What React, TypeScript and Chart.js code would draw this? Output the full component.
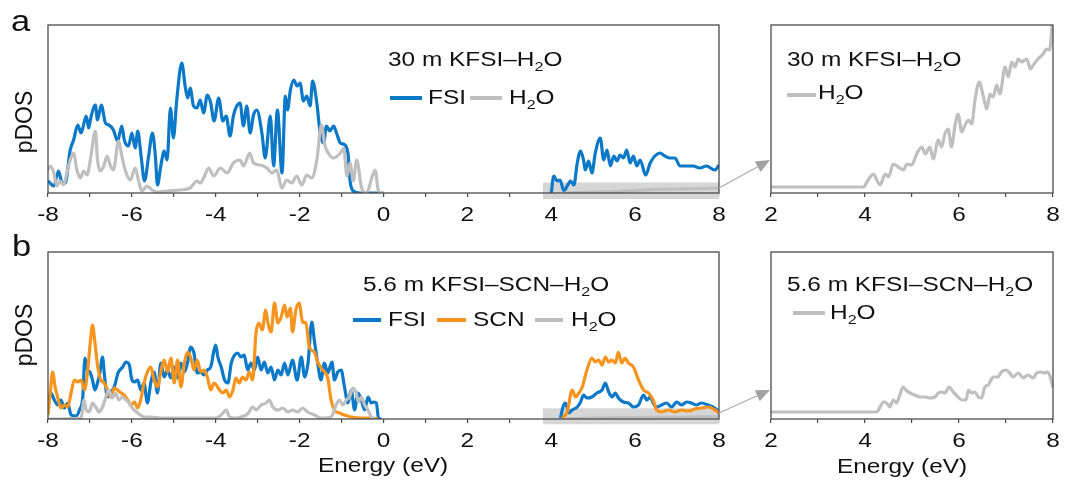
import React, { useEffect, useRef } from 'react';
import { Chart, registerables } from 'chart.js';
Chart.register(...registerables);

type Pt = [number, number | null];

const FONT = '"Liberation Sans", Arial, Helvetica, sans-serif';
const STRETCH = 1.19;
const BLUE = '#0b78c8';
const ORANGE = '#f7941d';
const GRAY = '#bfbfbf';
const FRAME = '#4a4a4a';

const mainTickLabels = ['-8', '-6', '-4', '-2', '0', '2', '4', '6', '8'];
const zoomTickLabels = ['2', '4', '6', '8'];

// ---- panel a : 30 m KFSI–H2O ----
const fsiA: Pt[] = [
  [-8, 12], [-7.86, 7], [-7.75, 22], [-7.67, 11], [-7.59, 10], [-7.47, 43], [-7.39, 53], [-7.29, 68], [-7.21, 60],
  [-7.09, 77], [-7.03, 65], [-6.98, 75], [-6.87, 88], [-6.82, 73], [-6.73, 88], [-6.63, 70], [-6.55, 68], [-6.44, 63],
  [-6.34, 52], [-6.24, 67], [-6.18, 53], [-6.08, 47], [-6.0, 60], [-5.92, 45], [-5.86, 62], [-5.78, 37], [-5.7, 12],
  [-5.6, 37], [-5.51, 60], [-5.44, 37], [-5.39, 8], [-5.31, 27], [-5.23, 42], [-5.16, 33], [-5.08, 85], [-5.01, 55],
  [-4.93, 93], [-4.81, 130], [-4.73, 107], [-4.67, 95], [-4.61, 105], [-4.53, 87], [-4.45, 85], [-4.37, 93], [-4.29, 80],
  [-4.2, 98], [-4.12, 90], [-4.04, 72], [-3.93, 95], [-3.83, 72], [-3.75, 77], [-3.66, 57], [-3.58, 77], [-3.5, 87],
  [-3.42, 90], [-3.34, 67], [-3.26, 87], [-3.18, 60], [-3.1, 78], [-3.02, 83], [-2.9, 60], [-2.82, 35], [-2.7, 77],
  [-2.62, 27], [-2.53, 83], [-2.42, 20], [-2.34, 97], [-2.29, 83], [-2.22, 103], [-2.14, 113], [-2.06, 107], [-1.99, 110],
  [-1.91, 92], [-1.83, 97], [-1.75, 87], [-1.69, 112], [-1.59, 90], [-1.51, 60], [-1.43, 50], [-1.36, 67], [-1.28, 62],
  [-1.19, 67], [-1.12, 60], [-1.03, 50], [-0.92, 48], [-0.84, 37], [-0.8, 13], [-0.72, 2], [-0.56, 0], [0, 0],
  [2, null],
  [4, 0], [4.06, 17], [4.14, 12], [4.21, 13], [4.3, 2], [4.38, 7], [4.46, 12], [4.54, 8], [4.62, 30], [4.7, 42],
  [4.77, 33], [4.81, 23], [4.89, 32], [4.97, 20], [5.05, 40], [5.17, 55], [5.25, 33], [5.33, 43], [5.41, 27], [5.49, 37],
  [5.57, 32], [5.64, 38], [5.72, 35], [5.8, 43], [5.88, 30], [5.96, 37], [6.04, 27], [6.12, 33], [6.25, 18], [6.36, 30],
  [6.47, 37], [6.59, 40], [6.71, 37], [6.83, 35], [6.95, 35], [7.07, 27], [7.23, 27], [7.38, 27], [7.54, 25], [7.7, 27],
  [7.9, 23], [8, 28],
];

const h2oA: Pt[] = [
  [-8, 23], [-7.94, 27], [-7.86, 20], [-7.79, 7], [-7.71, 12], [-7.63, 8], [-7.55, 20], [-7.47, 33], [-7.39, 40],
  [-7.31, 23], [-7.23, 15], [-7.15, 22], [-7.07, 18], [-6.99, 33], [-6.87, 62], [-6.82, 33], [-6.75, 22], [-6.67, 27],
  [-6.59, 37], [-6.51, 27], [-6.44, 23], [-6.32, 52], [-6.24, 37], [-6.16, 23], [-6.04, 13], [-5.92, 25], [-5.84, 12],
  [-5.76, 2], [-5.64, 7], [-5.52, 3], [-5.4, 1], [-5.16, 2], [-4.85, 3], [-4.61, 5], [-4.45, 12], [-4.37, 10],
  [-4.29, 15], [-4.17, 25], [-4.05, 17], [-3.89, 25], [-3.73, 20], [-3.58, 30], [-3.42, 33], [-3.34, 27], [-3.19, 40],
  [-3.1, 30], [-2.94, 28], [-2.78, 25], [-2.66, 20], [-2.55, 23], [-2.42, 5], [-2.31, 13], [-2.19, 10], [-2.07, 17],
  [-1.95, 8], [-1.83, 18], [-1.71, 15], [-1.59, 33], [-1.48, 68], [-1.4, 48], [-1.32, 40], [-1.19, 35], [-1.03, 40],
  [-0.95, 45], [-0.87, 17], [-0.8, 30], [-0.72, 12], [-0.64, 33], [-0.52, 5], [-0.4, 0], [-0.28, 15], [-0.2, 23],
  [-0.12, 2], [0, 0],
  [2, null],
  [4.3, 0], [5, 1], [5.5, 1.5], [6, 2.5], [6.5, 3.5], [7, 4], [7.5, 4.5], [8, 5],
];

const h2oAZoom: Pt[] = [
  [2, 6], [3.97, 6], [4.04, 11], [4.11, 16], [4.18, 19], [4.25, 13], [4.32, 8], [4.43, 19], [4.5, 16], [4.6, 29],
  [4.71, 26], [4.82, 23], [4.89, 29], [4.99, 28], [5.1, 39], [5.21, 46], [5.28, 39], [5.38, 46], [5.45, 34], [5.56, 53],
  [5.63, 46], [5.7, 59], [5.77, 64], [5.84, 46], [5.91, 66], [5.98, 79], [6.06, 61], [6.13, 68], [6.2, 73], [6.27, 69],
  [6.34, 93], [6.43, 111], [6.52, 96], [6.59, 84], [6.66, 99], [6.73, 96], [6.8, 108], [6.87, 99], [6.98, 126],
  [7.05, 116], [7.12, 131], [7.19, 126], [7.26, 134], [7.33, 131], [7.44, 134], [7.52, 124], [7.58, 128], [7.68, 134],
  [7.79, 139], [7.86, 144], [7.93, 143], [7.98, 166], [8, 168],
];

// ---- panel b : 5.6 m KFSI–SCN–H2O ----
const fsiB: Pt[] = [
  [-8, 16], [-7.93, 26], [-7.85, 19], [-7.77, 14], [-7.69, 19], [-7.61, 11], [-7.53, 16], [-7.45, 4], [-7.33, 3],
  [-7.25, 9], [-7.17, 22], [-7.12, 61], [-7.06, 49], [-7.0, 47], [-6.94, 39], [-6.88, 29], [-6.82, 36], [-6.76, 47],
  [-6.7, 62], [-6.65, 42], [-6.58, 22], [-6.5, 27], [-6.42, 32], [-6.33, 46], [-6.22, 52], [-6.14, 57], [-6.06, 54],
  [-6.01, 41], [-5.94, 37], [-5.86, 39], [-5.79, 29], [-5.71, 36], [-5.63, 16], [-5.55, 36], [-5.47, 47], [-5.39, 26],
  [-5.31, 56], [-5.23, 42], [-5.15, 49], [-5.07, 41], [-4.99, 52], [-4.91, 41], [-4.83, 56], [-4.75, 47], [-4.67, 57],
  [-4.6, 72], [-4.52, 66], [-4.44, 46], [-4.36, 47], [-4.28, 44], [-4.2, 49], [-4.12, 52], [-4.04, 69], [-4.0, 74],
  [-3.95, 62], [-3.87, 52], [-3.79, 39], [-3.71, 36], [-3.63, 56], [-3.55, 64], [-3.48, 66], [-3.4, 62], [-3.32, 64],
  [-3.24, 49], [-3.16, 56], [-3.08, 49], [-3.0, 62], [-2.92, 49], [-2.84, 57], [-2.76, 46], [-2.68, 52], [-2.6, 39],
  [-2.52, 49], [-2.44, 44], [-2.36, 56], [-2.28, 44], [-2.17, 59], [-2.06, 39], [-1.96, 62], [-1.88, 42], [-1.8, 56],
  [-1.71, 97], [-1.65, 79], [-1.57, 56], [-1.49, 39], [-1.41, 56], [-1.33, 46], [-1.23, 57], [-1.17, 39], [-1.09, 47],
  [-1.01, 49], [-0.93, 32], [-0.85, 16], [-0.77, 29], [-0.69, 9], [-0.61, 26], [-0.53, 19], [-0.45, 9], [-0.37, 22],
  [-0.29, 16], [-0.23, 17], [-0.17, 16], [-0.12, 1], [-0.05, 0],
  [2, null],
  [4.22, 1], [4.28, 12], [4.34, 16], [4.42, 6], [4.5, 9], [4.62, 12], [4.7, 17], [4.77, 24], [4.85, 21], [4.97, 22],
  [5.09, 26], [5.21, 29], [5.29, 36], [5.37, 27], [5.45, 22], [5.53, 26], [5.6, 21], [5.72, 17], [5.84, 16], [5.96, 12],
  [6.08, 14], [6.2, 24], [6.28, 19], [6.36, 22], [6.43, 16], [6.51, 12], [6.63, 14], [6.75, 16], [6.87, 12], [6.99, 17],
  [7.11, 14], [7.23, 17], [7.34, 16], [7.46, 14], [7.58, 16], [7.74, 14], [7.9, 11], [8, 7],
];

const scnB: Pt[] = [
  [-8, 4], [-7.94, 29], [-7.89, 47], [-7.83, 32], [-7.77, 22], [-7.69, 11], [-7.61, 14], [-7.53, 12], [-7.45, 26],
  [-7.37, 39], [-7.29, 37], [-7.21, 39], [-7.13, 29], [-7.06, 46], [-6.99, 77], [-6.94, 94], [-6.88, 76], [-6.82, 54],
  [-6.74, 39], [-6.66, 36], [-6.58, 29], [-6.5, 22], [-6.42, 31], [-6.34, 29], [-6.26, 26], [-6.18, 24], [-6.1, 19],
  [-6.02, 14], [-5.94, 17], [-5.86, 11], [-5.79, 19], [-5.71, 36], [-5.63, 47], [-5.55, 52], [-5.47, 39], [-5.39, 32],
  [-5.31, 47], [-5.23, 59], [-5.15, 47], [-5.07, 61], [-4.99, 36], [-4.91, 59], [-4.83, 32], [-4.75, 56], [-4.67, 67],
  [-4.6, 62], [-4.52, 49], [-4.44, 59], [-4.36, 47], [-4.28, 49], [-4.2, 42], [-4.12, 29], [-4.04, 36], [-3.91, 29],
  [-3.83, 26], [-3.75, 29], [-3.67, 22], [-3.59, 29], [-3.52, 41], [-3.44, 36], [-3.36, 42], [-3.28, 39], [-3.2, 47],
  [-3.12, 39], [-3.04, 86], [-2.97, 96], [-2.89, 89], [-2.81, 109], [-2.76, 97], [-2.68, 87], [-2.6, 116], [-2.52, 96],
  [-2.44, 102], [-2.36, 114], [-2.3, 102], [-2.22, 111], [-2.17, 87], [-2.09, 109], [-2.01, 116], [-1.93, 97],
  [-1.85, 96], [-1.77, 72], [-1.65, 67], [-1.57, 57], [-1.45, 49], [-1.33, 41], [-1.25, 19], [-1.17, 9], [-1.05, 6],
  [-0.93, 4], [-0.77, 2], [-0.53, 1], [-0.29, 1], [-0.13, 0],
  [2, null],
  [4.26, 1], [4.38, 7], [4.5, 29], [4.58, 22], [4.66, 26], [4.74, 32], [4.85, 49], [4.97, 61], [5.05, 57], [5.13, 59],
  [5.21, 54], [5.29, 62], [5.37, 57], [5.45, 59], [5.53, 56], [5.6, 67], [5.68, 56], [5.76, 61], [5.84, 56], [5.96, 52],
  [6.08, 39], [6.2, 29], [6.32, 26], [6.43, 19], [6.51, 9], [6.63, 7], [6.79, 9], [6.95, 7], [7.11, 9], [7.26, 8],
  [7.42, 10], [7.58, 11], [7.74, 12], [7.9, 9], [8, 6],
];

const h2oB: Pt[] = [
  [-8, 0], [-7.21, 1], [-7.14, 19], [-7.09, 9], [-7.02, 7], [-6.94, 16], [-6.86, 12], [-6.78, 7], [-6.7, 12],
  [-6.62, 22], [-6.55, 29], [-6.47, 21], [-6.39, 26], [-6.31, 19], [-6.23, 22], [-6.14, 19], [-6.06, 16], [-5.99, 11],
  [-5.86, 6], [-5.71, 2], [-5.55, 2], [-5.31, 1], [-4.5, 1], [-4.0, 1], [-3.87, 4], [-3.75, 9], [-3.67, 2], [-3.55, 1],
  [-3.4, 2], [-3.24, 5], [-3.12, 12], [-3.04, 9], [-2.92, 14], [-2.8, 16], [-2.72, 19], [-2.64, 12], [-2.52, 9],
  [-2.4, 11], [-2.28, 7], [-2.17, 9], [-2.05, 7], [-1.93, 11], [-1.81, 7], [-1.65, 4], [-1.49, 1], [-1.25, 2],
  [-1.13, 14], [-1.05, 19], [-0.97, 14], [-0.89, 19], [-0.81, 22], [-0.73, 31], [-0.65, 26], [-0.6, 17], [-0.53, 22],
  [-0.45, 14], [-0.37, 9], [-0.29, 2], [-0.21, 0],
  [2, null],
  [4.3, 0], [5, 1], [6, 1.5], [7, 2], [8, 2.5],
];

const h2oBZoom: Pt[] = [
  [2, 7], [4.25, 7], [4.32, 12], [4.39, 17], [4.46, 16], [4.53, 12], [4.6, 19], [4.67, 16], [4.74, 24], [4.81, 32],
  [4.87, 29], [4.96, 26], [5.06, 24], [5.17, 22], [5.28, 22], [5.38, 21], [5.49, 22], [5.56, 26], [5.63, 27], [5.7, 26],
  [5.79, 32], [5.88, 27], [5.98, 22], [6.06, 19], [6.15, 19], [6.2, 29], [6.27, 26], [6.34, 27], [6.41, 22], [6.48, 21],
  [6.55, 32], [6.62, 34], [6.73, 42], [6.83, 42], [6.9, 47], [7.0, 49], [7.08, 46], [7.15, 42], [7.26, 46], [7.37, 41],
  [7.47, 44], [7.58, 41], [7.65, 46], [7.75, 47], [7.82, 46], [7.89, 47], [7.96, 39], [8, 31],
];

const toXY = (pts: Pt[]) => pts.map(([x, y]) => ({ x, y }));

const framePlugin = {
  id: 'frameTicks',
  afterDraw(chart: any, _args: any, opts: any) {
    const { ctx, chartArea: a } = chart;
    const xs = chart.scales.x;
    ctx.save();
    ctx.strokeStyle = FRAME;
    ctx.lineWidth = 1.3;
    ctx.strokeRect(a.left, a.top, a.right - a.left, a.bottom - a.top);
    ctx.fillStyle = '#111';
    ctx.font = `20.5px ${FONT}`;
    ctx.textAlign = 'center';
    ctx.textBaseline = 'alphabetic';
    const labels: string[] = (opts && opts.labels) || [];
    xs.ticks.forEach((t: any) => {
      const lab = String(t.value);
      if (!labels.includes(lab)) return;
      const px = xs.getPixelForValue(t.value);
      ctx.save();
      ctx.translate(px, a.bottom + 27.5);
      ctx.scale(STRETCH, 1);
      ctx.fillText(lab, 0, 0);
      ctx.restore();
    });
    ctx.restore();
  },
};

const zoomPlugin = {
  id: 'zoomBox',
  beforeDatasetsDraw(chart: any, _args: any, o: any) {
    if (!o || o.from == null) return;
    const { ctx, chartArea: a } = chart;
    const xs = chart.scales.x;
    const x0 = xs.getPixelForValue(o.from);
    const x1 = xs.getPixelForValue(o.to);
    ctx.save();
    ctx.fillStyle = '#d6d6d6';
    ctx.fillRect(x0, a.bottom - o.up, x1 - x0, o.up + o.down);
    ctx.restore();
  },
  afterDraw(chart: any, _args: any, o: any) {
    if (!o || o.from == null) return;
    const { ctx, chartArea: a } = chart;
    const sx = a.right;
    const sy = a.bottom - o.startUp;
    const tx = a.right + o.dx;
    const ty = a.bottom - o.rise;
    const ang = Math.atan2(ty - sy, tx - sx);
    const hl = 14;
    const hw = 6;
    const bx = tx - hl * Math.cos(ang);
    const by = ty - hl * Math.sin(ang);
    ctx.save();
    ctx.strokeStyle = '#aaaaaa';
    ctx.lineWidth = 1.2;
    ctx.beginPath();
    ctx.moveTo(sx, sy);
    ctx.lineTo(bx, by);
    ctx.stroke();
    ctx.fillStyle = '#a2a2a2';
    ctx.beginPath();
    ctx.moveTo(tx, ty);
    ctx.lineTo(bx - hw * Math.sin(ang), by + hw * Math.cos(ang));
    ctx.lineTo(bx + hw * Math.sin(ang), by - hw * Math.cos(ang));
    ctx.closePath();
    ctx.fill();
    ctx.restore();
  },
};

interface Series { pts: Pt[]; color: string }
interface Spec {
  left: number; top: number; w: number; h: number;
  padL: number; padR: number; padT: number; xh: number;
  xmin: number; xmax: number; ymax: number;
  labels: string[]; series: Series[];
  zoom?: any;
}

function Plot({ spec }: { spec: Spec }) {
  const ref = useRef<HTMLCanvasElement>(null);
  useEffect(() => {
    const chart = new Chart(ref.current as HTMLCanvasElement, {
      type: 'line',
      data: {
        datasets: spec.series.map((s) => ({
          data: toXY(s.pts) as any,
          borderColor: s.color,
          backgroundColor: s.color,
          borderWidth: 3.2,
          pointRadius: 0,
          cubicInterpolationMode: 'monotone',
          spanGaps: false,
          fill: false,
        })),
      },
      options: {
        responsive: false,
        animation: false,
        events: [],
        layout: { padding: { left: spec.padL, right: spec.padR, top: spec.padT, bottom: 0 } },
        plugins: {
          legend: { display: false },
          tooltip: { enabled: false },
          frameTicks: { labels: spec.labels },
          zoomBox: spec.zoom || {},
        } as any,
        scales: {
          x: {
            type: 'linear',
            min: spec.xmin,
            max: spec.xmax,
            ticks: { stepSize: 1, display: false, autoSkip: false },
            grid: { drawOnChartArea: false, drawTicks: true, tickLength: 4, color: FRAME, lineWidth: 1.2 },
            border: { display: false },
            afterFit: (s: any) => { s.height = spec.xh; },
          },
          y: { display: false, min: 0, max: spec.ymax },
        },
      },
      plugins: spec.zoom ? [framePlugin, zoomPlugin] : [framePlugin],
    } as any);
    return () => chart.destroy();
  }, []);
  return (
    <canvas
      ref={ref}
      width={spec.w}
      height={spec.h}
      style={{ position: 'absolute', left: spec.left, top: spec.top, width: spec.w, height: spec.h }}
    />
  );
}

const Txt = ({ x, base, size = 20.5, stretch = STRETCH, children }: any) => (
  <div
    style={{
      position: 'absolute', left: x, top: base - size * 0.8465, fontFamily: FONT, fontSize: size,
      lineHeight: `${size}px`, whiteSpace: 'nowrap', transform: `scaleX(${stretch})`, transformOrigin: '0 0', color: '#111',
    }}
  >
    {children}
  </div>
);

const Sub = ({ children }: any) => (
  <span style={{ fontSize: 13.5, verticalAlign: -5, lineHeight: 0 }}>{children}</span>
);
const H2O = () => (<>H<Sub>2</Sub>O</>);

const Swatch = ({ x1, x2, y, color }: any) => (
  <div style={{ position: 'absolute', left: x1, top: y - 1.6, width: x2 - x1, height: 3.2, background: color }} />
);

const Rot = ({ cx, cy, size, children }: any) => (
  <div
    style={{
      position: 'absolute', left: cx, top: cy, fontFamily: FONT, fontSize: size, lineHeight: `${size}px`,
      whiteSpace: 'nowrap', transform: 'translate(-50%,-50%) rotate(-90deg)', color: '#111',
    }}
  >
    {children}
  </div>
);

const specs: Spec[] = [
  {
    left: 0, top: 0, w: 790, h: 232, padL: 48, padR: 71, padT: 25, xh: 39,
    xmin: -8, xmax: 8, ymax: 168, labels: mainTickLabels,
    series: [{ pts: h2oA, color: GRAY }, { pts: fsiA, color: BLUE }],
    zoom: { from: 3.8, to: 8, up: 10.5, down: 6, startUp: 5, rise: 33, dx: 51 },
  },
  {
    left: 760, top: 0, w: 305, h: 232, padL: 11, padR: 12, padT: 25, xh: 39,
    xmin: 2, xmax: 8, ymax: 168, labels: zoomTickLabels,
    series: [{ pts: h2oAZoom, color: GRAY }],
  },
  {
    left: 0, top: 232, w: 790, h: 232, padL: 48, padR: 71, padT: 20, xh: 45,
    xmin: -8, xmax: 8, ymax: 167, labels: mainTickLabels,
    series: [{ pts: h2oB, color: GRAY }, { pts: scnB, color: ORANGE }, { pts: fsiB, color: BLUE }],
    zoom: { from: 3.8, to: 8, up: 10.7, down: 5.3, startUp: 6, rise: 29, dx: 51 },
  },
  {
    left: 760, top: 232, w: 305, h: 232, padL: 11, padR: 12, padT: 20, xh: 45,
    xmin: 2, xmax: 8, ymax: 167, labels: zoomTickLabels,
    series: [{ pts: h2oBZoom, color: GRAY }],
  },
];

export default function App() {
  return (
    <div style={{ position: 'absolute', left: 0, top: 0, width: 1065, height: 487, background: '#fff', overflow: 'hidden' }}>
      {specs.map((s, i) => <Plot key={i} spec={s} />)}

      <Txt x={11} base={32} size={29}>a</Txt>
      <Txt x={12} base={257} size={29}>b</Txt>

      <Rot cx={24} cy={122} size={23}>pDOS</Rot>
      <Rot cx={24} cy={335} size={23}>pDOS</Rot>

      {/* panel a, main */}
      <Txt x={388} base={66}>30 m KFSI–<H2O /></Txt>
      <Swatch x1={390} x2={422} y={98} color={BLUE} />
      <Txt x={428} base={104.5}>FSI</Txt>
      <Swatch x1={470} x2={502} y={98} color={GRAY} />
      <Txt x={509} base={104.5}><H2O /></Txt>

      {/* panel a, zoom */}
      <Txt x={787} base={66}>30 m KFSI–<H2O /></Txt>
      <Swatch x1={787} x2={816} y={95} color={GRAY} />
      <Txt x={818} base={99.5}><H2O /></Txt>

      {/* panel b, main */}
      <Txt x={363} base={291}>5.6 m KFSI–SCN–<H2O /></Txt>
      <Swatch x1={353} x2={381} y={320} color={BLUE} />
      <Txt x={388} base={326.5}>FSI</Txt>
      <Swatch x1={437} x2={466} y={320} color={ORANGE} />
      <Txt x={473} base={326.5}>SCN</Txt>
      <Swatch x1={535} x2={563} y={320} color={GRAY} />
      <Txt x={571} base={326.5}><H2O /></Txt>

      {/* panel b, zoom */}
      <Txt x={787} base={291.5}>5.6 m KFSI–SCN–<H2O /></Txt>
      <Swatch x1={793} x2={825} y={313} color={GRAY} />
      <Txt x={830} base={319.5}><H2O /></Txt>

      <Txt x={318} base={472.3}>Energy (eV)</Txt>
      <Txt x={837} base={473}>Energy (eV)</Txt>
    </div>
  );
}
